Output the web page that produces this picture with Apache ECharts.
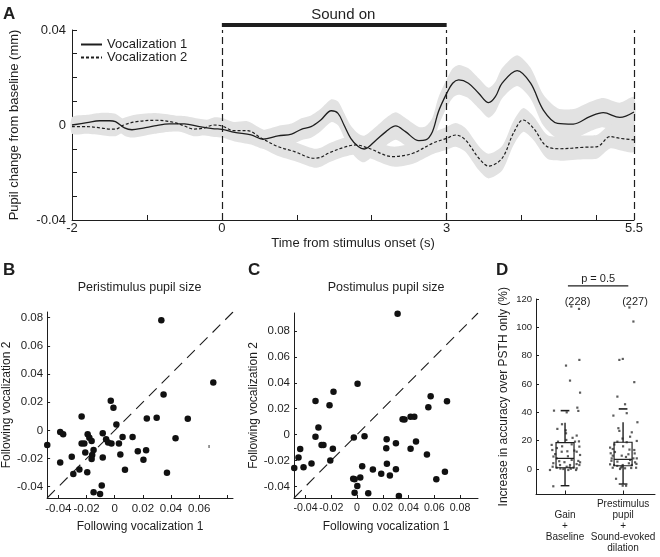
<!DOCTYPE html>
<html><head><meta charset="utf-8">
<script src="https://cdn.jsdelivr.net/npm/echarts@6/dist/echarts.min.js"></script>
<style>html,body{margin:0;padding:0;background:#fff}#c{width:660px;height:557px}</style>
</head><body><div id="c"></div>
<script>
// ---------- Panel A data ----------
const t1 = [-2.0,-1.8,-1.63,-1.5,-1.42,-1.3,-1.2,-1.05,-0.9,-0.7,-0.5,-0.3,-0.1,0,0.17,0.39,0.55,0.75,0.93,1.06,1.19,1.32,1.46,1.55,1.63,1.72,1.82,1.9,2.06,2.19,2.32,2.45,2.63,2.72,2.81,2.89,3.0,3.08,3.16,3.29,3.43,3.56,3.65,3.74,3.94,4.12,4.29,4.48,4.69,4.91,5.09,5.31,5.5];
const v1 = [0,0.001,0.0018,0.0018,0.0014,-0.0012,-0.002,-0.0013,-0.0004,0.0005,0.0005,-0.0007,-0.0016,-0.0018,-0.0031,-0.0042,-0.006,-0.0046,-0.0038,-0.0018,-0.0007,0.0021,0.006,0.0049,0.0,-0.0056,-0.0091,-0.0101,-0.0063,-0.0028,-0.0004,-0.0028,-0.0066,-0.0063,-0.0028,0.0056,0.0133,0.0176,0.019,0.0176,0.0133,0.0094,0.0119,0.0176,0.0229,0.0176,0.0063,0.0007,0.0004,0.0035,0.0052,0.0032,0.0055];
const e1 = [0.0033,0.0033,0.0033,0.0033,0.0033,0.0033,0.0033,0.0033,0.0033,0.0033,0.0033,0.0033,0.0034,0.0035,0.0038,0.004,0.004,0.0042,0.0044,0.0046,0.0047,0.0047,0.0048,0.005,0.0052,0.0054,0.0055,0.0056,0.0057,0.0058,0.0058,0.0058,0.0058,0.0058,0.0059,0.006,0.006,0.0062,0.0063,0.0063,0.0063,0.0063,0.0063,0.0064,0.0065,0.0065,0.0065,0.0064,0.0063,0.0062,0.0062,0.0062,0.0062];
const t2 = [-2.0,-1.8,-1.6,-1.5,-1.42,-1.31,-1.14,-0.87,-0.64,-0.5,-0.38,-0.24,-0.11,0,0.16,0.34,0.53,0.75,0.97,1.23,1.32,1.42,1.63,1.79,1.96,2.28,2.55,2.81,3.0,3.12,3.25,3.43,3.56,3.74,3.89,4.02,4.16,4.34,4.52,4.82,5.01,5.18,5.31,5.5];
const v2 = [-0.0007,-0.0007,-0.0013,-0.0017,-0.0017,0.0,0.0014,0.002,0.0011,-0.0004,-0.0017,-0.0013,0.0,-0.0004,-0.0024,-0.0024,-0.0056,-0.0091,-0.0112,-0.014,-0.0136,-0.0119,-0.0094,-0.0084,-0.0098,-0.0133,-0.0119,-0.0077,-0.0056,-0.0042,-0.0063,-0.014,-0.0173,-0.014,-0.0035,0.0021,-0.0014,-0.0091,-0.01,-0.0094,-0.0091,-0.0049,-0.0056,-0.0063];
const e2 = [0.003,0.003,0.003,0.003,0.003,0.003,0.003,0.003,0.003,0.003,0.003,0.003,0.0032,0.0034,0.0037,0.004,0.004,0.004,0.004,0.004,0.004,0.004,0.004,0.004,0.004,0.0042,0.0044,0.0046,0.0048,0.005,0.005,0.0051,0.0052,0.0052,0.0051,0.005,0.005,0.005,0.005,0.005,0.005,0.005,0.005,0.005];
const seriesNamesA = ['Vocalization 1','Vocalization 2'];
const soundOnSpan = [0, 3];
const soundOnText = 'Sound on';
const xTicksA = [-2,-1,0,1,2,3,4,5,5.5];
const xLabelsA = [-2,0,3,5.5];
const yTicksA = [-0.04,-0.03,-0.02,-0.01,0,0.01,0.02,0.03,0.04];
const yLabelsA = [-0.04,0,0.04];
const eventLinesA = [0,3,5.5];

// ---------- Panel B data ----------
const bX = [0.0331,0.070,0.0347,-0.0028,-0.0009,-0.0235,0.0228,0.0298,0.0519,0.0012,-0.0387,-0.0366,-0.0085,-0.0192,-0.018,-0.0164,-0.0061,-0.0047,-0.0023,0.0056,0.0127,0.003,0.0432,-0.0235,-0.0216,-0.0479,-0.0209,-0.015,-0.016,-0.0164,-0.0085,0.004,0.0164,0.0223,0.0204,-0.0305,-0.0387,-0.0251,-0.0294,-0.0195,0.0073,0.0371,-0.0092,-0.015,-0.0104];
const bY = [0.0782,0.034,0.0254,0.0211,0.016,0.0099,0.0085,0.0089,0.0082,0.0042,-0.0012,-0.0028,-0.0021,-0.0028,-0.0052,-0.0075,-0.0063,-0.0087,-0.0094,-0.0047,-0.0047,-0.0094,-0.0056,-0.0094,-0.0094,-0.0103,-0.0157,-0.0139,-0.0174,-0.0204,-0.0192,-0.0171,-0.0148,-0.0141,-0.0209,-0.0188,-0.0228,-0.0277,-0.031,-0.0298,-0.028,-0.0301,-0.0392,-0.0439,-0.0451];
const bTinyX = [0.067], bTinyY = [-0.0115];
const rangeB = [-0.048, 0.084];

// ---------- Panel C data ----------
const cX = [0.0315,0.0004,-0.0183,-0.0323,-0.0214,-0.03,-0.0323,-0.0276,-0.0261,-0.0188,-0.0442,-0.0455,-0.0208,-0.0354,-0.0416,-0.0488,-0.0025,0.0058,0.023,0.0302,0.0227,0.0354,0.0369,0.0416,0.0445,0.0572,0.0554,0.0699,0.0458,0.0416,0.0543,0.0232,0.004,0.0123,0.0188,0.0255,0.0302,-0.003,-0.0019,0.0025,0.0002,-0.0019,0.0087,0.0325,0.0616,0.0683];
const cY = [0.0934,0.0394,0.0332,0.0259,0.0226,0.0054,-0.0016,-0.008,-0.008,-0.0109,-0.0111,-0.0177,-0.02,-0.0223,-0.0252,-0.0259,-0.0023,-0.0013,-0.0036,-0.0067,-0.0106,0.0119,0.0117,0.0138,0.0138,0.0296,0.0212,0.0257,-0.0054,-0.0109,-0.0153,-0.0226,-0.0244,-0.027,-0.0303,-0.0317,-0.0267,-0.0342,-0.0345,-0.0332,-0.0397,-0.0449,-0.0454,-0.0475,-0.0345,-0.0288];
const rangeC = [-0.049, 0.094];
const ticksBC = [-0.04,-0.02,0,0.02,0.04,0.06,0.08];
const xLabelsB = [-0.04,-0.02,0,0.02,0.04,0.06];

// ---------- Panel D data ----------
const dCats = ['Gain\n+\nBaseline','Prestimulus\npupil\n+\nSound-evoked\ndilation'];
const dCounts = ['(228)','(227)'];
const dPos = [1, 2];
const box1 = [-11.8, 0.9, 7.5, 18.6, 32.7];
const box2 = [-10.6, 2.3, 6.8, 18.9, 33.0];
const dashD = [41.2, 42.4];
const g1x = [1.109,1.241,1.017,1.247,1.086,1.259,0.81,1.029,1.212,1.229,0.948,0.868,1.012,1.201,1.022,0.77,1.115,1.247,0.781,0.943,1.201,1.259,0.857,1.115,1.229,0.798,0.914,1.029,1.144,0.971,0.857,0.787,1.201,1.086,1.247,0.798,1.017,0.879,1.172,1.259,0.741,1.057,1.19,0.83,0.9,1.05,1.16,0.95,1.08,0.92,1.2,0.8,1.13,0.99,1.24,0.86,1.1,1.04];
const g1y = [114.7,113,73,77,62.4,53.9,41.2,40,43.3,41,31.6,28.3,27.3,23.6,20.5,17,17.4,15.8,13.4,12.2,12.2,9.9,7.5,6.4,5.7,4.1,2.8,1.6,0.9,0,0.9,1.6,0.5,2.8,2.8,-12.2,25.2,19.3,19.3,4.7,-0.7,-0.7,-0.7,10.5,5.5,9,13,16,1.2,0.3,3.5,8.8,22,4.8,19.5,14.8,0.2,12.5];
const g2x = [2.109,2.178,1.936,1.995,2.193,1.902,2.034,2.063,1.833,2.247,1.919,1.936,2.15,2.121,2.236,2.063,1.776,1.822,2.193,1.787,2.092,1.977,1.804,2.236,2.121,1.902,2.207,1.776,1.845,1.994,2.15,1.822,1.977,2.034,1.948,2.224,1.879,2.052,1.994,1.902,1.822,2.178,1.86,2.0,2.1,1.96,2.2,1.8,2.05,2.14,1.9,2.23,1.99,1.85,2.11];
const g2y = [114,104.1,77,77.7,61.3,51.1,45.7,39.4,37.7,33,28.8,26.9,25.9,22.8,19.8,18.9,15.1,14.1,13.4,11.1,10.4,9.4,7.5,7.5,6.4,5.2,4.7,3.3,2.8,2.8,2.8,0.9,1.6,0.5,0,0.9,-6.9,-11.8,-11.8,19.3,9.4,7.5,12,16,4,1,11,5.8,8.5,0.7,2.2,3.6,21.5,17.3,13.7];
const yTicksD = [0,20,40,60,80,100,120];
const pText = 'p = 0.5';

// ---------- chart ----------
const FONT = 'Liberation Sans, Arial, Helvetica, sans-serif';
const INK = '#1e1e1e';
const zip = (a, b) => a.map((v, i) => [v, b[i]]);
const fmt = v => (Math.abs(v) < 1e-9 ? '0' : String(+v.toFixed(2)));

function band(t, v, e) {
  return {
    type: 'custom', xAxisIndex: 0, yAxisIndex: 0, silent: true, z: 1,
    data: [[t[0], v[0]]],
    renderItem: function (p, api) {
      const pts = [];
      for (let i = 0; i < t.length; i++) pts.push(api.coord([t[i], v[i] + e[i]]));
      for (let i = t.length - 1; i >= 0; i--) pts.push(api.coord([t[i], v[i] - e[i]]));
      return { type: 'polygon', shape: { points: pts, smooth: 0.25 }, style: { fill: '#e2e2e2' } };
    }
  };
}

function lab(values, size, margin, extra) {
  return Object.assign({ customValues: values, formatter: fmt, color: INK, fontFamily: FONT, fontSize: size, margin: margin,
    hideOverlap: false, showMinLabel: true, showMaxLabel: true }, extra || {});
}

function valAxis(grid, min, max, ticks, labels, opt) {
  return Object.assign({
    type: 'value', gridIndex: grid, min: min, max: max,
    axisLine: { show: true, onZero: false, lineStyle: { color: INK, width: 1 } },
    axisTick: { show: true, inside: true, length: 3, customValues: ticks, lineStyle: { color: INK } },
    axisLabel: lab(labels, 11.5, 4),
    splitLine: { show: false },
    nameLocation: 'middle',
    nameTextStyle: { color: INK, fontFamily: FONT, fontSize: 12 }
  }, opt || {});
}

const chart = echarts.init(document.getElementById('c'), null, { renderer: 'canvas' });
const option = {
  animation: false,
  backgroundColor: '#fff',
  textStyle: { fontFamily: FONT },
  grid: [
    { left: 70, top: 30, width: 564, height: 190 },
    { left: 46, top: 312, width: 187, height: 186 },
    { left: 294, top: 313, width: 184, height: 185 },
    { left: 536, top: 299, width: 119, height: 195.5 }
  ],
  legend: {
    data: seriesNamesA, orient: 'vertical', left: 75, top: 33, padding: 5,
    itemWidth: 21, itemHeight: 14, itemGap: 0,
    itemStyle: { opacity: 0 },
    textStyle: { color: INK, fontFamily: FONT, fontSize: 13 },
    selectedMode: false
  },
  xAxis: [
    valAxis(0, -2, 5.5, xTicksA, xLabelsA, {
      name: 'Time from stimulus onset (s)', nameGap: 17,
      nameTextStyle: { color: INK, fontFamily: FONT, fontSize: 13 },
      axisTick: { show: true, inside: true, length: 5, customValues: xTicksA, lineStyle: { color: INK } },
      axisLabel: lab(xLabelsA, 13, 2)
    }),
    valAxis(1, rangeB[0], rangeB[1], ticksBC, xLabelsB, { name: 'Following vocalization 1', nameGap: 23, axisLabel: lab(xLabelsB, 11.5, 5) }),
    valAxis(2, rangeC[0], rangeC[1], ticksBC, ticksBC, { name: 'Following vocalization 1', nameGap: 23, axisLabel: lab(ticksBC, 10.6, 5, { showMinLabel: null }) }),
    valAxis(3, 0.5, 2.55, dPos, dPos, {
      axisTick: { show: true, inside: true, length: 4, customValues: dPos, lineStyle: { color: INK } },
      axisLabel: lab(dPos, 10, 32, { formatter: v => dCats[Math.round(v) - 1], lineHeight: 11, verticalAlign: 'middle' })
    })
  ],
  yAxis: [
    valAxis(0, -0.04, 0.04, yTicksA, yLabelsA, {
      name: 'Pupil change from baseline (mm)', nameGap: 51,
      nameTextStyle: { color: INK, fontFamily: FONT, fontSize: 13 },
      axisTick: { show: true, inside: true, length: 5, customValues: yTicksA, lineStyle: { color: INK } },
      axisLabel: lab(yLabelsA, 13, 6)
    }),
    valAxis(1, rangeB[0], rangeB[1], ticksBC, ticksBC, { name: 'Following vocalization 2', nameGap: 31 }),
    valAxis(2, rangeC[0], rangeC[1], ticksBC, ticksBC, { name: 'Following vocalization 2', nameGap: 32 }),
    valAxis(3, -18, 120, yTicksD, yTicksD, {
      name: 'Increase in accuracy over PSTH only (%)', nameGap: 26,
      axisLabel: lab(yTicksD, 9.5, 4)
    })
  ],
  series: [
    band(t1, v1, e1),
    band(t2, v2, e2),
    {
      type: 'line', name: seriesNamesA[0], xAxisIndex: 0, yAxisIndex: 0, z: 4,
      data: zip(t1, v1), symbol: 'none', smooth: 0.35,
      lineStyle: { color: INK, width: 1.3 }, itemStyle: { color: INK },
      markLine: {
        silent: true, symbol: 'none', label: { show: false },
        lineStyle: { type: [7, 4], color: INK, width: 1.2 },
        data: eventLinesA.map(x => ({ xAxis: x }))
      }
    },
    {
      type: 'line', name: seriesNamesA[1], xAxisIndex: 0, yAxisIndex: 0, z: 3,
      data: zip(t2, v2), symbol: 'none', smooth: 0.35,
      lineStyle: { color: INK, width: 1.2, type: [3, 2] }, itemStyle: { color: INK }
    },
    {
      type: 'custom', xAxisIndex: 0, yAxisIndex: 0, clip: false, silent: true, z: 5,
      data: [[soundOnSpan[0], soundOnSpan[1]]],
      renderItem: function (p, api) {
        const a = api.coord([api.value(0), 0.0421]);
        const b = api.coord([api.value(1), 0.0421]);
        return { type: 'group', children: [
          { type: 'line', shape: { x1: a[0], y1: a[1], x2: b[0], y2: b[1] }, style: { stroke: INK, lineWidth: 4 } },
          { type: 'text', x: (a[0] + b[0]) / 2 + 9, y: a[1] - 10, style: { text: soundOnText, fill: INK, font: '15px ' + FONT, textAlign: 'center', textVerticalAlign: 'middle' } }
        ] };
      }
    },
    // Panel B
    {
      type: 'line', xAxisIndex: 1, yAxisIndex: 1, data: [[rangeB[0], rangeB[0]], [rangeB[1], rangeB[1]]],
      symbol: 'none', silent: true, z: 2, lineStyle: { color: INK, width: 1.1, type: [11, 7] }
    },
    { type: 'scatter', xAxisIndex: 1, yAxisIndex: 1, data: zip(bX, bY), symbolSize: 6.5, itemStyle: { color: '#111', opacity: 1 }, z: 3 },
    { type: 'scatter', xAxisIndex: 1, yAxisIndex: 1, data: zip(bTinyX, bTinyY), symbol: 'rect', symbolSize: [1.5, 3], itemStyle: { color: '#555' }, z: 3 },
    // Panel C
    {
      type: 'line', xAxisIndex: 2, yAxisIndex: 2, data: [[rangeC[0], rangeC[0]], [rangeC[1], rangeC[1]]],
      symbol: 'none', silent: true, z: 2, lineStyle: { color: INK, width: 1.1, type: [11, 7] }
    },
    { type: 'scatter', xAxisIndex: 2, yAxisIndex: 2, data: zip(cX, cY), symbolSize: 6.5, itemStyle: { color: '#111', opacity: 1 }, z: 3 },
    // Panel D
    { type: 'scatter', xAxisIndex: 3, yAxisIndex: 3, data: zip(g1x, g1y), symbol: 'rect', symbolSize: 2.2, itemStyle: { color: '#333' }, z: 2 },
    { type: 'scatter', xAxisIndex: 3, yAxisIndex: 3, data: zip(g2x, g2y), symbol: 'rect', symbolSize: 2.2, itemStyle: { color: '#333' }, z: 2 },
    {
      type: 'custom', xAxisIndex: 3, yAxisIndex: 3, silent: true, z: 4, clip: false,
      data: [[dPos[0]].concat(box1, [dashD[0]]), [dPos[1]].concat(box2, [dashD[1]])],
      renderItem: function (p, api) {
        const x = api.value(0), hw = 0.155, cw = 0.075;
        const c = (xx, yy) => api.coord([xx, yy]);
        const lo = api.value(1), q1 = api.value(2), md = api.value(3), q3 = api.value(4), hi = api.value(5), dv = api.value(6);
        const ln = (a, b, w) => ({ type: 'line', shape: { x1: a[0], y1: a[1], x2: b[0], y2: b[1] }, style: { stroke: INK, lineWidth: w || 1.2 } });
        const tl = c(x - hw, q3), br = c(x + hw, q1);
        return { type: 'group', children: [
          { type: 'rect', shape: { x: tl[0], y: tl[1], width: br[0] - tl[0], height: br[1] - tl[1] }, style: { fill: null, stroke: INK, lineWidth: 1.2 } },
          ln(c(x - hw, md), c(x + hw, md)),
          ln(c(x, q1), c(x, lo), 1.4),
          ln(c(x, q3), c(x, hi), 1.4),
          ln(c(x - cw, lo), c(x + cw, lo), 1.4),
          ln(c(x - cw, dv), c(x + cw, dv), 1.6)
        ] };
      }
    },
    {
      type: 'custom', xAxisIndex: 3, yAxisIndex: 3, silent: true, z: 4, clip: false,
      data: [[1.05, 2.09]],
      renderItem: function (p, api) {
        const a = api.coord([api.value(0), 129.2]);
        const b = api.coord([api.value(1), 129.2]);
        const n1 = api.coord([1.215, 118]);
        const n2 = api.coord([2.205, 118]);
        const ts = { fill: INK, font: '11px ' + FONT, textAlign: 'center', textVerticalAlign: 'middle' };
        return { type: 'group', children: [
          { type: 'line', shape: { x1: a[0], y1: a[1], x2: b[0], y2: b[1] }, style: { stroke: INK, lineWidth: 1.2 } },
          { type: 'text', x: (a[0] + b[0]) / 2, y: a[1] - 7, style: Object.assign({ text: pText }, ts) },
          { type: 'text', x: n1[0], y: n1[1], style: Object.assign({ text: dCounts[0] }, ts) },
          { type: 'text', x: n2[0], y: n2[1], style: Object.assign({ text: dCounts[1] }, ts) }
        ] };
      }
    }
  ],
  graphic: [
    { type: 'text', left: 3, top: 6, style: { text: 'A', font: 'bold 17px ' + FONT, fill: INK } },
    { type: 'text', left: 3, top: 262, style: { text: 'B', font: 'bold 17px ' + FONT, fill: INK } },
    { type: 'text', left: 248, top: 262, style: { text: 'C', font: 'bold 17px ' + FONT, fill: INK } },
    { type: 'text', left: 496, top: 262, style: { text: 'D', font: 'bold 17px ' + FONT, fill: INK } },
    { type: 'text', x: 139.5, y: 288, style: { text: 'Peristimulus pupil size', font: '12.5px ' + FONT, fill: INK, textAlign: 'center', textVerticalAlign: 'middle' } },
    { type: 'text', x: 386, y: 288, style: { text: 'Postimulus pupil size', font: '12.5px ' + FONT, fill: INK, textAlign: 'center', textVerticalAlign: 'middle' } }
  ]
};
chart.setOption(option);
</script>
</body></html>
